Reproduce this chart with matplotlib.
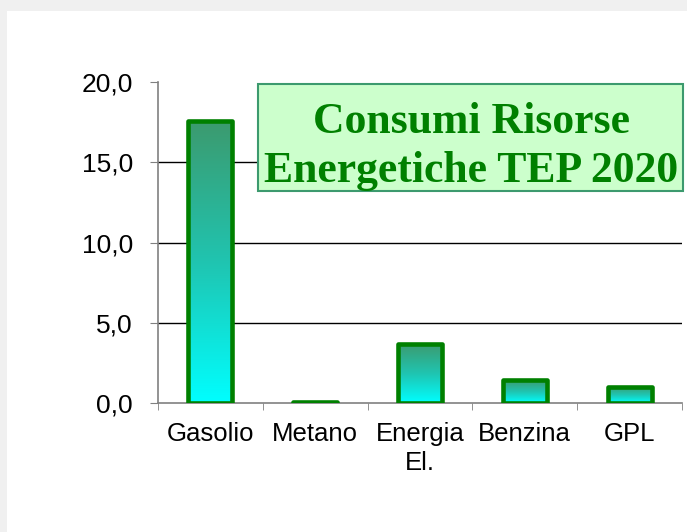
import numpy as np
import matplotlib.pyplot as plt
from matplotlib.patches import Rectangle
from matplotlib.colors import LinearSegmentedColormap

categories = ["Gasolio", "Metano", "Energia\nEl.", "Benzina", "GPL"]
tep_2020 = [17.6, 0.06, 3.7, 1.43, 1.0]
y_ticks = [0, 5, 10, 15, 20]
y_labels = ["0,0", "5,0", "10,0", "15,0", "20,0"]
title_lines = ["Consumi Risorse", "Energetiche TEP 2020"]

W, H = 687, 532
fig = plt.figure(figsize=(W / 100, H / 100), dpi=100, facecolor="#f0f0f0")
# white chart area, kept behind the axes
fig.patches.append(Rectangle((7 / W, 0), 1 - 7 / W, 1 - 11 / H, transform=fig.transFigure,
                             facecolor="white", edgecolor="none", zorder=-10))

ax = fig.add_axes([158 / W, 1 - 403 / H, (682 - 158) / W, (403 - 82) / H])
ax.set_facecolor("none")

x = np.arange(len(categories))

# grid lines at 5, 10, 15
for v in y_ticks[1:-1]:
    ax.axhline(v, color="black", lw=1, zorder=1)

grad = LinearSegmentedColormap.from_list("bar", ["#00ffff", "#20c4b0", "#3c9a6e"])
gimg = np.linspace(0, 1, 256).reshape(-1, 1)

bars = ax.bar(x, tep_2020, width=0.42, facecolor="none", edgecolor="#008000",
              linewidth=3.3, joinstyle="round", zorder=3)
for b in bars:
    x0, y0 = b.get_x(), b.get_y()
    im = ax.imshow(gimg, cmap=grad, origin="lower", aspect="auto",
                   extent=(x0, x0 + b.get_width(), y0, y0 + b.get_height()), zorder=2)
    im.set_clip_path(b)
ax.set_xlim(-0.5, len(categories) - 0.5)
ax.set_ylim(0, 20)

for s in ["top", "right"]:
    ax.spines[s].set_visible(False)
ax.spines["left"].set_color("#808080")
ax.spines["bottom"].set_color("#808080")
ax.spines["left"].set_linewidth(1.2)
ax.spines["bottom"].set_linewidth(1.2)

ax.set_yticks(y_ticks)
ax.set_yticklabels(y_labels, fontsize=19, family="Liberation Sans")
ax.tick_params(axis="y", direction="out", length=6, color="#808080", pad=12)

ax.set_xticks(x)
ax.set_xticklabels(categories, fontsize=18.5, family="Liberation Sans", linespacing=1.25)
ax.set_xticks(np.arange(len(categories) + 1) - 0.5, minor=True)
ax.tick_params(axis="x", which="major", length=0, pad=14)
ax.tick_params(axis="x", which="minor", direction="out", length=5, color="#808080")

# title box
fig.patches.append(Rectangle((258 / W, 1 - 191 / H), 425 / W, 107 / H, transform=fig.transFigure,
                             facecolor="#ccffcc", edgecolor="#3c9a6e", linewidth=1.5, zorder=5))
for line, base in zip(title_lines, [133, 182]):
    fig.text(471 / W, 1 - base / H, line, ha="center", va="baseline", fontsize=31.5,
             family="Liberation Serif", fontweight="bold", color="#008000", zorder=6)

fig.savefig("out.png", dpi=100, facecolor=fig.get_facecolor())
